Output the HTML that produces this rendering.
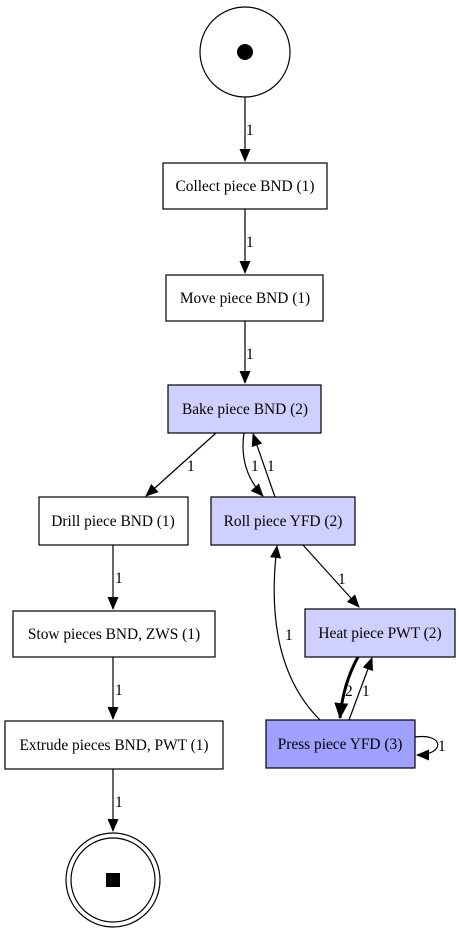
<!DOCTYPE html>
<html><head><style>body{margin:0;background:#fff}svg{display:block}text{font-family:"Liberation Serif",serif;font-size:15.4px}</style></head><body>
<svg width="459" height="936" viewBox="0 0 459 936">
<defs><marker id="a" markerWidth="13" markerHeight="11" refX="12" refY="5.5" orient="auto" markerUnits="userSpaceOnUse"><path d="M0,0 L13,5.5 L0,11 z" fill="#000"/></marker>
<marker id="b" markerWidth="16" markerHeight="14" refX="15" refY="7" orient="auto" markerUnits="userSpaceOnUse"><path d="M0,0 L16,7 L0,14 z" fill="#000"/></marker></defs>
<g fill="none" stroke="#000" stroke-width="1.2">
<circle cx="245" cy="52" r="45"/>
<circle cx="113" cy="880" r="47"/><circle cx="113" cy="880" r="42"/>
<path d="M245,97 V161" marker-end="url(#a)"/>
<path d="M245,209 V273" marker-end="url(#a)"/>
<path d="M245,321 V383" marker-end="url(#a)"/>
<path d="M216,433 L146,496" marker-end="url(#a)"/>
<path d="M244,433 C240,460 248,480 263,496" marker-end="url(#a)"/>
<path d="M275,497 L253,434" marker-end="url(#a)"/>
<path d="M113,545 V609" marker-end="url(#a)"/>
<path d="M113,657 V719" marker-end="url(#a)"/>
<path d="M113,769 V831" marker-end="url(#a)"/>
<path d="M303,545 L359,607" marker-end="url(#a)"/>
<path d="M320,720 C280,680 268,620 277,546" marker-end="url(#a)"/>
<path d="M358,657 C348,675 342,695 340,718" stroke-width="3" marker-end="url(#b)"/>
<path d="M349,720 L372,658" marker-end="url(#a)"/>
<path d="M415,737 C445,733 445,755 417,755" marker-end="url(#a)"/>
</g>
<circle cx="245" cy="52" r="8"/>
<rect x="106" y="873" width="14" height="14"/>
<g stroke="#000" stroke-width="1.2">
<rect x="163" y="163" width="164" height="46" fill="#fff"/>
<rect x="166" y="275" width="157" height="46" fill="#fff"/>
<rect x="168" y="385" width="153" height="48" fill="#d0d0ff"/>
<rect x="39" y="497" width="149" height="48" fill="#fff"/>
<rect x="211" y="497" width="144" height="48" fill="#d0d0ff"/>
<rect x="13" y="611" width="202" height="46" fill="#fff"/>
<rect x="305" y="609" width="150" height="48" fill="#d0d0ff"/>
<rect x="5" y="721" width="218" height="48" fill="#fff"/>
<rect x="266" y="720" width="149" height="48" fill="#a0a0ff"/>
</g>
<g text-anchor="middle">
<text x="245" y="191">Collect piece BND (1)</text>
<text x="245" y="303">Move piece BND (1)</text>
<text x="245" y="414">Bake piece BND (2)</text>
<text x="113" y="526">Drill piece BND (1)</text>
<text x="283" y="526">Roll piece YFD (2)</text>
<text x="114" y="639">Stow pieces BND, ZWS (1)</text>
<text x="380" y="638">Heat piece PWT (2)</text>
<text x="114" y="750">Extrude pieces BND, PWT (1)</text>
<text x="340" y="749">Press piece YFD (3)</text>
</g>
<g>
<text x="246" y="135">1</text><text x="246" y="247">1</text><text x="246" y="359">1</text>
<text x="187" y="471">1</text><text x="251" y="471">1</text><text x="267" y="471">1</text>
<text x="115" y="583">1</text><text x="115" y="695">1</text><text x="115" y="807">1</text>
<text x="338" y="584">1</text><text x="285" y="640">1</text>
<text x="345" y="696">2</text><text x="362" y="696">1</text><text x="438" y="751">1</text>
</g>
</svg></body></html>
